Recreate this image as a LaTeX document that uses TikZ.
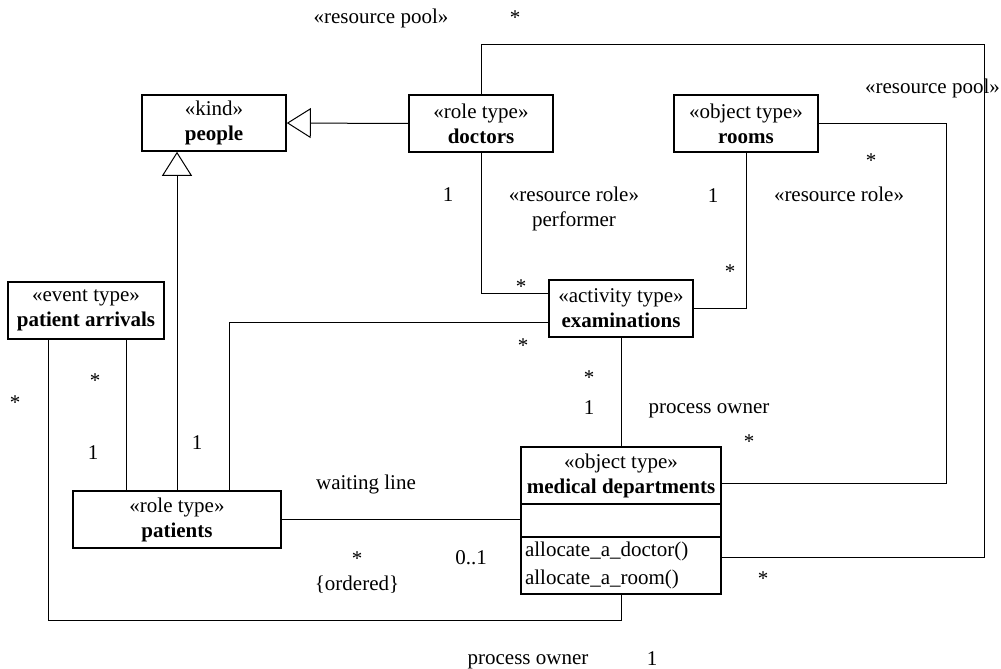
\documentclass[tikz,border=0pt]{standalone}
\usepackage{fontspec}
\setmainfont{Liberation Serif}
\usetikzlibrary{arrows.meta}
\begin{document}
\begin{tikzpicture}[x=1pt,y=-1pt,
  box/.style={draw, line width=1.6pt, inner sep=0pt, align=center, font=\fontsize{21}{25}\selectfont},
  conn/.style={line width=1pt},
  gen/.style={line width=1pt, -{Triangle[open, length=24pt, width=30pt]}},
  lbl/.style={inner sep=0pt, anchor=base, font=\fontsize{21}{25}\selectfont}
]
\useasboundingbox (0,0) rectangle (1001,669);

% classes
\node[box, minimum width=144pt, minimum height=56pt] (people) at (214,123) {«kind»\\\textbf{people}};
\node[box, minimum width=144pt, minimum height=57pt] (doctors) at (481,123.5) {«role type»\\\textbf{doctors}};
\node[box, minimum width=144pt, minimum height=57pt] (rooms) at (746,123.5) {«object type»\\\textbf{rooms}};
\node[box, minimum width=144pt, minimum height=57pt] (exam) at (621,308.5) {«activity type»\\\textbf{examinations}};
\node[box, minimum width=156pt, minimum height=57pt] (arrivals) at (86,310.5) {«event type»\\\textbf{patient arrivals}};
\node[box, minimum width=208pt, minimum height=57pt] (patients) at (177,519.5) {«role type»\\\textbf{patients}};
\node[box, minimum width=200pt, minimum height=57pt] (mdtop) at (621,475.5) {«object type»\\\textbf{medical departments}};
\node[box, minimum width=200pt, minimum height=33pt] (mdattr) at (621,520.5) {};
\node[box, minimum width=200pt, minimum height=57pt, text width=192pt, inner xsep=4pt, align=left,
      font=\fontsize{21}{28}\selectfont] (mdops) at (621,565.5) {allocate\_a\_doctor()\\allocate\_a\_room()};

% routing points
\coordinate (rpTop) at (984,45);
\coordinate (rpR) at (984,557);
\coordinate (rrR) at (946,483);
\coordinate (exD) at (481,293);
\coordinate (exP) at (229,322);
\coordinate (apX) at (126,400);
\coordinate (apB) at (48,620);

% generalizations
\draw[gen] (doctors.west) -- (people.east);
\draw[gen] (patients.north) -- (patients.north |- people.south);

% associations
\draw[conn] (doctors.north) |- (rpTop) -- (rpR) -- (rpR -| mdops.east);
\draw[conn] (rooms.east) -| (rrR) -- (rrR -| mdtop.east);
\draw[conn] (rooms.south) |- (exam.east);
\draw[conn] (doctors.south) -- (exD) -- (exD -| exam.west);
\draw[conn] (patients.north -| exP) -- (exP) -- (exP -| exam.west);
\draw[conn] (exam.south) -- (mdtop.north);
\draw[conn] (patients.east) -- (patients.east -| mdattr.west);
\draw[conn] (arrivals.south -| apX) -- (patients.north -| apX);
\draw[conn] (arrivals.south -| apB) -- (apB) -| (mdops.south);

% labels
\node[lbl] (l1) at (381,24) {«resource pool»};
\node[lbl] (l2) at (515,25) {*};
\node[lbl] (l3) at (932.5,93) {«resource pool»};
\node[lbl] (l4) at (871,167) {*};
\node[lbl] (l5) at (448,201) {1};
\node[lbl] (l6) at (574,201) {«resource role»};
\node[lbl] (l7) at (574,226) {performer};
\node[lbl] (l8) at (713,202) {1};
\node[lbl] (l9) at (839,201) {«resource role»};
\node[lbl] (l10) at (521,293) {*};
\node[lbl] (l11) at (730,278) {*};
\node[lbl] (l12) at (523,352) {*};
\node[lbl] (l13) at (589,384) {*};
\node[lbl] (l14) at (589,414) {1};
\node[lbl] (l15) at (709,413) {process owner};
\node[lbl] (l16) at (749,448) {*};
\node[lbl] (l17) at (95,387) {*};
\node[lbl] (l18) at (15,409) {*};
\node[lbl] (l19) at (93,459) {1};
\node[lbl] (l20) at (197,449) {1};
\node[lbl] (l21) at (366,489) {waiting line};
\node[lbl] (l22) at (357,565) {*};
\node[lbl] (l23) at (471,564) {0..1};
\node[lbl] (l24) at (357,590) {\{ordered\}};
\node[lbl] (l25) at (763,585) {*};
\node[lbl] (l26) at (528,664) {process owner};
\node[lbl] (l27) at (652,665) {1};
\end{tikzpicture}
\end{document}
